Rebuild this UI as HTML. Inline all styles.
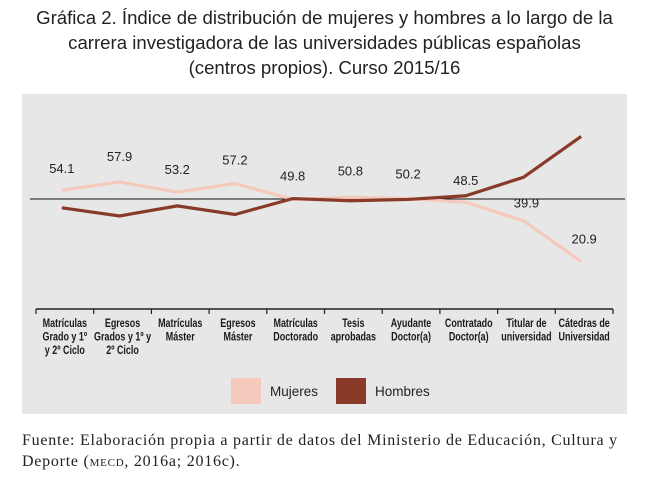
<!DOCTYPE html>
<html><head><meta charset="utf-8"><style>
body{margin:0;width:649px;height:485px;background:#fff;overflow:hidden;position:relative;font-family:"Liberation Sans",sans-serif}
#title{position:absolute;left:0;top:5px;width:649px;text-align:center;font-size:18.6px;line-height:25px;color:#222}
#panel{position:absolute;left:22px;top:94px;width:605px;height:320px;background:#e6e7e6}
#foot{position:absolute;left:22px;top:430px;font-family:"Liberation Serif",serif;font-size:16px;letter-spacing:0.75px;line-height:21px;color:#222;white-space:nowrap}
</style></head><body>
<div id="title">Gráfica 2. Índice de distribución de mujeres y hombres a lo largo de la<br>carrera investigadora de las universidades públicas españolas<br>(centros propios). Curso 2015/16</div>
<div id="panel"></div>
<svg id="chart" width="649" height="485" style="position:absolute;left:0;top:0"></svg>
<div id="foot">Fuente: Elaboración propia a partir de datos del Ministerio de Educación, Cultura y<br>Deporte (<span style="font-variant:small-caps">mecd</span>, 2016a; 2016c).</div>
<script>
const categories=[["Matrículas","Grado y 1º","y 2º Ciclo"],["Egresos","Grados y 1º y","2º Ciclo"],["Matrículas","Máster"],["Egresos","Máster"],["Matrículas","Doctorado"],["Tesis","aprobadas"],["Ayudante","Doctor(a)"],["Contratado","Doctor(a)"],["Titular de","universidad"],["Cátedras de","Universidad"]];
const mujeres=[54.1,57.9,53.2,57.2,49.8,50.8,50.2,48.5,39.9,20.9];
const hombres=[45.9,42.1,46.8,42.8,50.2,49.2,49.8,51.5,60.1,79.1];
const labelOffsets=[-17,-21,-18,-19,-19,-22,-20,-17,-13,-18];
const NS="http://www.w3.org/2000/svg",svg=document.getElementById('chart');
const x0=36,x1=613,n=categories.length,cw=(x1-x0)/n;
const xs=i=>x0+cw*(i+0.5)-3;
const ys=v=>199-(v-50)*2.15;
function mk(t,a){const e=document.createElementNS(NS,t);for(const k in a)e.setAttribute(k,a[k]);svg.appendChild(e);return e;}
let l=mk('line',{x1:30,x2:625,y1:199,y2:199,stroke:'#111','stroke-width':1});


l=mk('line',{x1:x0,x2:x1,y1:309,y2:309,stroke:'#222','stroke-width':1.5});


for(let i=0;i<=n;i++){const t=mk('line',{x1:x0+cw*i,x2:x0+cw*i,y1:309,y2:314,stroke:'#222','stroke-width':1.2});

}
categories.forEach((c,i)=>{const cx=x0+cw*(i+0.5);const t=mk('text',{x:cx,y:327,'text-anchor':'middle','font-size':11.8,'font-weight':600,fill:'#1a1a1a',transform:`translate(${cx},0) scale(0.76,1) translate(${-cx},0)`});


c.forEach((s,j)=>{const ts=document.createElementNS(NS,'tspan');ts.setAttribute('x',cx);ts.setAttribute('dy',j?13.5:0);ts.textContent=s;t.appendChild(ts);});});
function line(d,col,name){const p=mk('polyline',{points:d.map((v,i)=>xs(i)+','+ys(v)).join(' '),fill:'none',stroke:col,'stroke-width':3.2,'stroke-linejoin':'miter'});

}
line(mujeres,'#f6c9bd','mujeres-line');
line(hombres,'#8a3a29','hombres-line');
mujeres.forEach((v,i)=>{const t=mk('text',{x:xs(i)+(i>=8?3:0),y:ys(v)+labelOffsets[i],'text-anchor':'middle','font-size':13,fill:'#222'});t.textContent=v.toFixed(1);

});
let r=mk('rect',{x:231,y:378,width:30,height:26,fill:'#f6c9bd'});


let t=mk('text',{x:270,y:396,'font-size':13.5,fill:'#222'});t.textContent='Mujeres';


r=mk('rect',{x:336,y:378,width:30,height:26,fill:'#8a3a29'});


t=mk('text',{x:375,y:396,'font-size':13.5,fill:'#222'});t.textContent='Hombres';


</script>
</body></html>
